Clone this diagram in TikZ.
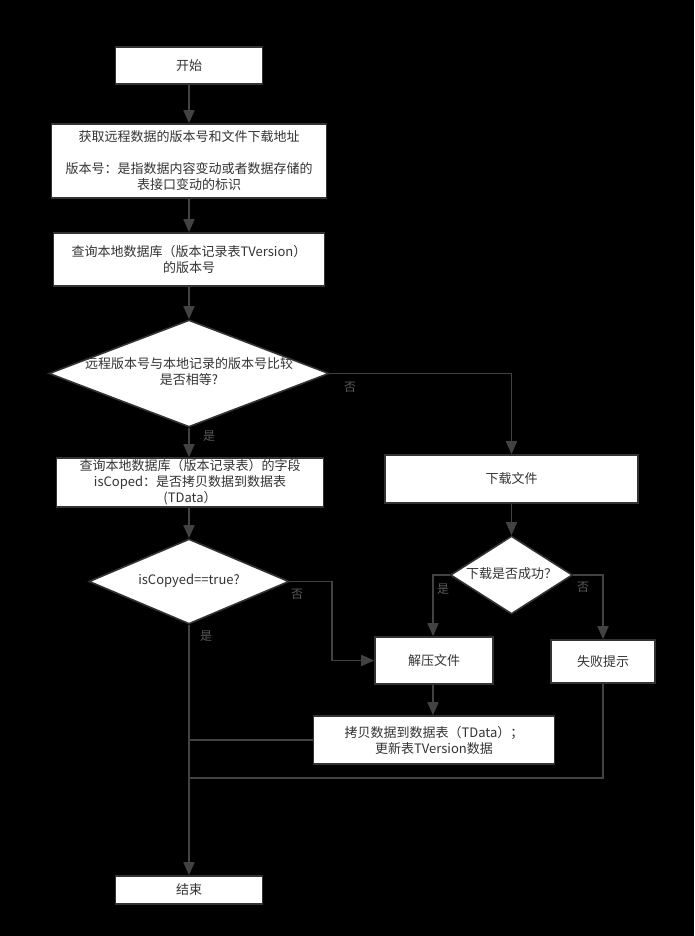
\documentclass[tikz,border=0pt]{standalone}
\usepackage{fontspec}
\setmainfont{Noto Sans CJK SC}
\usetikzlibrary{shapes.geometric,arrows.meta}
\definecolor{linec}{HTML}{424242}
\definecolor{borderc}{HTML}{333333}
\definecolor{textc}{HTML}{333333}
\definecolor{labelc}{HTML}{5A5A5A}
\tikzset{
  box/.style={draw=borderc, line width=1.6pt, fill=white, inner sep=0pt, align=center,
    text=textc, font=\fontsize{13}{16}\selectfont},
  dia/.style={diamond, draw=borderc, line width=1.6pt, fill=white, inner sep=0pt, aspect=2.6,
    text=textc, font=\fontsize{13}{16}\selectfont},
  conn/.style={draw=linec, line width=1.6pt},
  arr/.style={conn, -{Triangle[length=13pt,width=11pt]}},
  lbl/.style={text=labelc, font=\fontsize{12}{14}\selectfont, inner sep=0pt}
}
\newcommand{\dtext}[1]{\makebox[0pt]{\begin{tabular}{@{}c@{}}#1\end{tabular}}}
\begin{document}
\begin{tikzpicture}[x=1pt,y=-1pt]
\fill[black] (0,0) rectangle (694,936);
\useasboundingbox (0,0) rectangle (694,936);

\node[box, minimum width=147pt, minimum height=37pt] (start) at (189,65.5) {开始};
\node[box, minimum width=275pt, minimum height=74pt] (get) at (189,161)
  {获取远程数据的版本号和文件下载地址\\[16pt]版本号：是指数据内容变动或者数据存储的\\表接口变动的标识};
\node[box, minimum width=271pt, minimum height=53pt] (q1) at (189,259.5)
  {查询本地数据库（版本记录表TVersion）\\的版本号};
\node[dia, minimum width=280pt, minimum height=107pt] (d1) at (189,373.5)
  {\dtext{远程版本号与本地记录的版本号比较\\是否相等?}};
\node[box, minimum width=267pt, minimum height=49pt] (q2) at (190,482.5)
  {查询本地数据库（版本记录表）的字段\\isCoped：是否拷贝数据到数据表\\(TData）};
\node[box, minimum width=253pt, minimum height=48pt] (dl) at (511.5,479) {下载文件};
\node[dia, minimum width=200pt, minimum height=85pt] (d2) at (189,581.5)
  {\dtext{isCopyed==true?}};
\node[dia, minimum width=122pt, minimum height=78pt] (d3) at (511.5,575)
  {\dtext{下载是否成功？}};
\node[box, minimum width=118pt, minimum height=47pt] (unz) at (434,660.5) {解压文件};
\node[box, minimum width=104pt, minimum height=43pt] (fail) at (603,661.5) {失败提示};
\node[box, minimum width=241pt, minimum height=48pt] (copy) at (434,740)
  {拷贝数据到数据表（TData）；\\更新表TVersion数据};
\node[box, minimum width=147pt, minimum height=28pt] (end) at (189,890) {结束};

\coordinate (c1) at (511.5,373.5);
\coordinate (c2) at (433,575);
\coordinate (c3) at (603,575);
\coordinate (c4) at (332,581.5);
\coordinate (c5) at (332,660.5);
\coordinate (c6) at (189,740);
\coordinate (c7) at (603,778);
\coordinate (c8) at (189,778);

\draw[arr] (start) -- (get);
\draw[arr] (get) -- (q1);
\draw[arr] (q1) -- (d1);
\draw[arr] (d1.south) -- (d1.south |- q2.north);
\draw[arr] (d1.east) -- (c1) -- (dl.north);
\draw[arr] (dl) -- (d3);
\draw[arr] (q2.south -| d2.north) -- (d2.north);
\draw[arr] (d3.west) -- (c2) -- (c2 |- unz.north);
\draw[arr] (d3.east) -- (c3) -- (fail.north);
\draw[arr] (d2.east) -- (c4) -- (c5) -- (unz.west);
\draw[arr] (d2.south) -- (end.north);
\draw[arr] (c2 |- unz.south) -- (c2 |- copy.north);
\draw[conn] (copy.west) -- (c6);
\draw[conn] (fail.south) -- (c7) -- (c8);

\node[lbl] (l1) at (209,436) {是};
\node[lbl] (l2) at (350,387) {否};
\node[lbl] (l3) at (297,594) {否};
\node[lbl] (l4) at (206,636) {是};
\node[lbl] (l5) at (443,589) {是};
\node[lbl] (l6) at (583,587) {否};
\end{tikzpicture}
\end{document}
